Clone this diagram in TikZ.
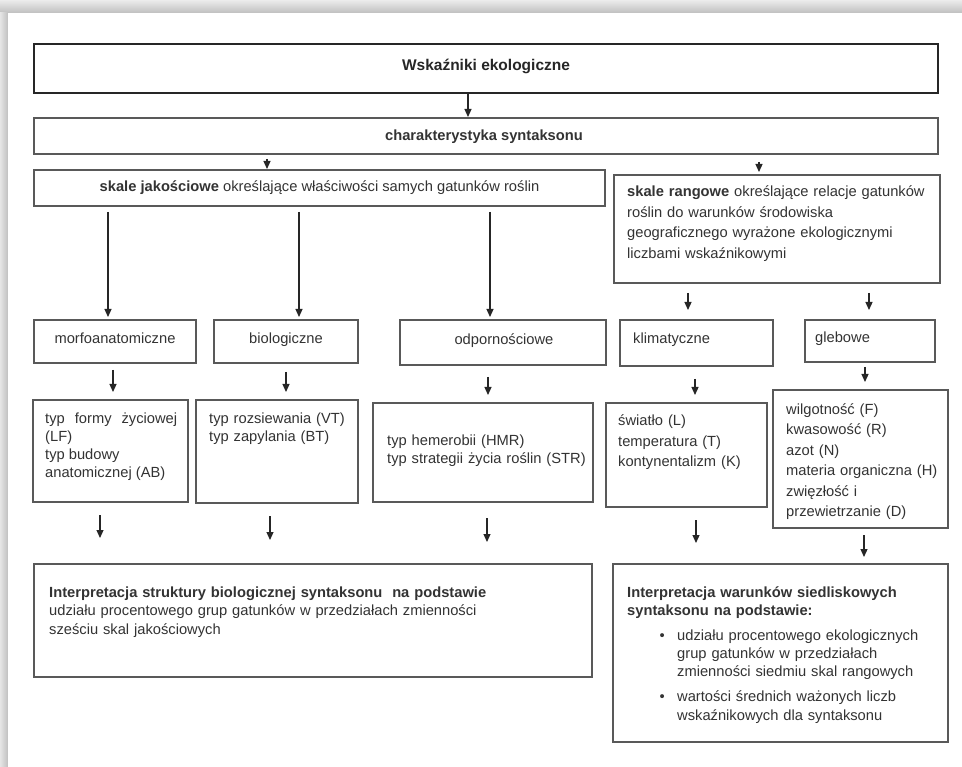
\documentclass[tikz,border=0pt]{standalone}
\usepackage{fontspec}
\setmainfont{Liberation Sans}
\usetikzlibrary{arrows.meta}

\definecolor{txtgray}{HTML}{333333}
\definecolor{linegray}{HTML}{595959}
\newcommand{\tstrut}{\rule{0pt}{11pt}}

\begin{document}
\begin{tikzpicture}[x=1pt, y=-1pt, >={Triangle[length=8pt,width=7pt]},
  font=\fontsize{14.7}{18}\selectfont,
  box/.style={draw=linegray, line width=1.2pt, inner sep=0pt, outer sep=0pt},
  mainbox/.style={box, draw=black!85, line width=2pt},
  lbl/.style={inner sep=0pt, anchor=base, text=txtgray},
  lblw/.style={lbl, anchor=base west},
  txt/.style={inner sep=0pt, anchor=north west, align=left, text=txtgray},
  arr/.style={->, line width=1.2pt, draw=black!85}]

  \useasboundingbox (0,0) rectangle (962,767);

  % Page with shadow
  \fill[gray!25] (0,0) rectangle (962,767);
  \shade[top color=gray!15, bottom color=gray!50] (0,0) rectangle (962,13);
  \shade[left color=gray!20, right color=gray!50] (0,13) rectangle (8,767);
  \fill[white] (8,13) rectangle (962,767);

  % Top level
  \node[mainbox, minimum width=904pt, minimum height=49pt] (title) at (486,68.5) {};
  \node[lbl, text=black!85, font=\fontsize{15.5}{18}\selectfont] (titletxt) at (486,71) {\textbf{Wskaźniki ekologiczne}};
  \node[box, minimum width=904pt, minimum height=36pt] (char) at (486,136) {};
  \node[lbl] (chartxt) at (484,141) {\textbf{charakterystyka syntaksonu}};

  % Scales
  \node[box, minimum width=571pt, minimum height=36pt] (skj) at (319.5,188) {};
  \node[lbl] (skjtxt) at (319.5,192) {\textbf{skale jakościowe} określające właściwości samych gatunków roślin};
  \node[box, minimum width=326pt, minimum height=108pt] (skr) at (777,229) {};
  \node[txt, text width=310pt, font=\fontsize{14.7}{20.5}\selectfont] (skrtxt) at (627,185.8)
    {\tstrut\textbf{skale rangowe} określające relacje gatunków\\ roślin do warunków środowiska\\ geograficznego wyrażone ekologicznymi\\ liczbami wskaźnikowymi};

  % Groups
  \node[box, minimum width=162pt, minimum height=43pt] (morfo) at (115,341.5) {};
  \node[lbl] (morfotxt) at (115,344) {morfoanatomiczne};
  \node[box, minimum width=144pt, minimum height=43pt] (biol) at (286,341.5) {};
  \node[lbl] (bioltxt) at (286,344) {biologiczne};
  \node[box, minimum width=206pt, minimum height=45pt] (odp) at (503,342.5) {};
  \node[lbl] (odptxt) at (504,345) {odpornościowe};
  \node[box, minimum width=153pt, minimum height=46pt] (klim) at (696.5,343) {};
  \node[lblw] (klimtxt) at (633,344) {klimatyczne};
  \node[box, minimum width=130pt, minimum height=42pt] (gleb) at (870,341) {};
  \node[lblw] (glebtxt) at (815,343) {glebowe};

  % Indicators
  \node[box, minimum width=155pt, minimum height=102pt] (lf) at (110.5,451) {};
  \node[txt, text width=132pt, align=justify] (lftxt) at (45,412.8)
    {\tstrut typ formy życiowej\linebreak (LF)\\ typ budowy\\ anatomicznej (AB)};
  \node[box, minimum width=162pt, minimum height=103pt] (rozs) at (277,451.5) {};
  \node[txt, text width=150pt] (rozstxt) at (209,412.8)
    {\tstrut typ rozsiewania (VT)\\ typ zapylania (BT)};
  \node[box, minimum width=220pt, minimum height=99pt] (hem) at (483,452.5) {};
  \node[txt, text width=205pt] (hemtxt) at (387,434.8)
    {\tstrut typ hemerobii (HMR)\\ typ strategii życia roślin (STR)};
  \node[box, minimum width=161pt, minimum height=104pt] (swi) at (686.5,455) {};
  \node[txt, text width=150pt, font=\fontsize{14.7}{20.5}\selectfont] (switxt) at (618,414.8)
    {\tstrut światło (L)\\ temperatura (T)\\ kontynentalizm (K)};
  \node[box, minimum width=175pt, minimum height=138pt] (wilg) at (860.5,459) {};
  \node[txt, text width=165pt, font=\fontsize{14.7}{20.5}\selectfont] (wilgtxt) at (786,403.3)
    {\tstrut wilgotność (F)\\ kwasowość (R)\\ azot (N)\\ materia organiczna (H)\\ zwięzłość i\\ przewietrzanie (D)};

  % Interpretation
  \node[box, minimum width=558pt, minimum height=113pt] (intL) at (313,620.5) {};
  \node[txt, text width=540pt, font=\fontsize{14.7}{18.8}\selectfont] (intLtxt) at (49,585.8)
    {\tstrut\textbf{Interpretacja struktury biologicznej syntaksonu\ \ na podstawie}\\ udziału procentowego grup gatunków w przedziałach zmienności\\ sześciu skal jakościowych};
  \node[box, minimum width=335pt, minimum height=178pt] (intR) at (780.5,653) {};
  \node[txt, text width=320pt, font=\fontsize{14.7}{18.3}\selectfont] (intRtxt) at (627,585.8)
    {\tstrut\textbf{Interpretacja warunków siedliskowych\\ syntaksonu na podstawie:}\\[6.7pt]
     \hspace*{50pt}\llap{\textbullet\hspace{12.5pt}}udziału procentowego ekologicznych\\
     \hspace*{50pt}grup gatunków w przedziałach\\
     \hspace*{50pt}zmienności siedmiu skal rangowych\\[6.7pt]
     \hspace*{50pt}\llap{\textbullet\hspace{12.5pt}}wartości średnich ważonych liczb\\
     \hspace*{50pt}wskaźnikowych dla syntaksonu};

  % Arrow columns
  \coordinate (a0) at (468,0);
  \coordinate (a1) at (267,0);
  \coordinate (a2) at (759,0);
  \coordinate (a3) at (108,0);
  \coordinate (a4) at (299,0);
  \coordinate (a5) at (490,0);
  \coordinate (a6) at (688,0);
  \coordinate (a7) at (869,0);
  \coordinate (a8) at (113,0);
  \coordinate (a9) at (286,0);
  \coordinate (a10) at (488,0);
  \coordinate (a11) at (695,0);
  \coordinate (a12) at (865,0);
  \coordinate (a13) at (100,0);
  \coordinate (a14) at (270,0);
  \coordinate (a15) at (487,0);
  \coordinate (a16) at (696,0);
  \coordinate (a17) at (864,0);

  % Arrows
  \draw[arr, shorten >=1pt] (title.south -| a0) -- (char.north -| a0);
  \draw[arr, shorten <=5pt, shorten >=1pt] (char.south -| a1) -- (skj.north -| a1);
  \draw[arr, shorten <=8pt, shorten >=3pt] (char.south -| a2) -- (skr.north -| a2);
  \draw[arr, shorten <=6pt, shorten >=3pt] (skj.south -| a3) -- (morfo.north -| a3);
  \draw[arr, shorten <=6pt, shorten >=3pt] (skj.south -| a4) -- (biol.north -| a4);
  \draw[arr, shorten <=6pt, shorten >=3pt] (skj.south -| a5) -- (odp.north -| a5);
  \draw[arr, shorten <=10pt, shorten >=10pt] (skr.south -| a6) -- (klim.north -| a6);
  \draw[arr, shorten <=10pt, shorten >=10pt] (skr.south -| a7) -- (gleb.north -| a7);
  \draw[arr, shorten <=7pt, shorten >=8pt] (morfo.south -| a8) -- (lf.north -| a8);
  \draw[arr, shorten <=9pt, shorten >=8pt] (biol.south -| a9) -- (rozs.north -| a9);
  \draw[arr, shorten <=12pt, shorten >=8pt] (odp.south -| a10) -- (hem.north -| a10);
  \draw[arr, shorten <=13pt, shorten >=8pt] (klim.south -| a11) -- (swi.north -| a11);
  \draw[arr, shorten <=5pt, shorten >=8pt] (gleb.south -| a12) -- (wilg.north -| a12);
  \draw[arr, shorten <=13pt, shorten >=26pt] (lf.south -| a13) -- (intL.north -| a13);
  \draw[arr, shorten <=13pt, shorten >=24pt] (rozs.south -| a14) -- (intL.north -| a14);
  \draw[arr, shorten <=16pt, shorten >=22pt] (hem.south -| a15) -- (intL.north -| a15);
  \draw[arr, shorten <=13pt, shorten >=21pt] (swi.south -| a16) -- (intR.north -| a16);
  \draw[arr, shorten <=7pt, shorten >=7pt] (wilg.south -| a17) -- (intR.north -| a17);

\end{tikzpicture}
\end{document}
